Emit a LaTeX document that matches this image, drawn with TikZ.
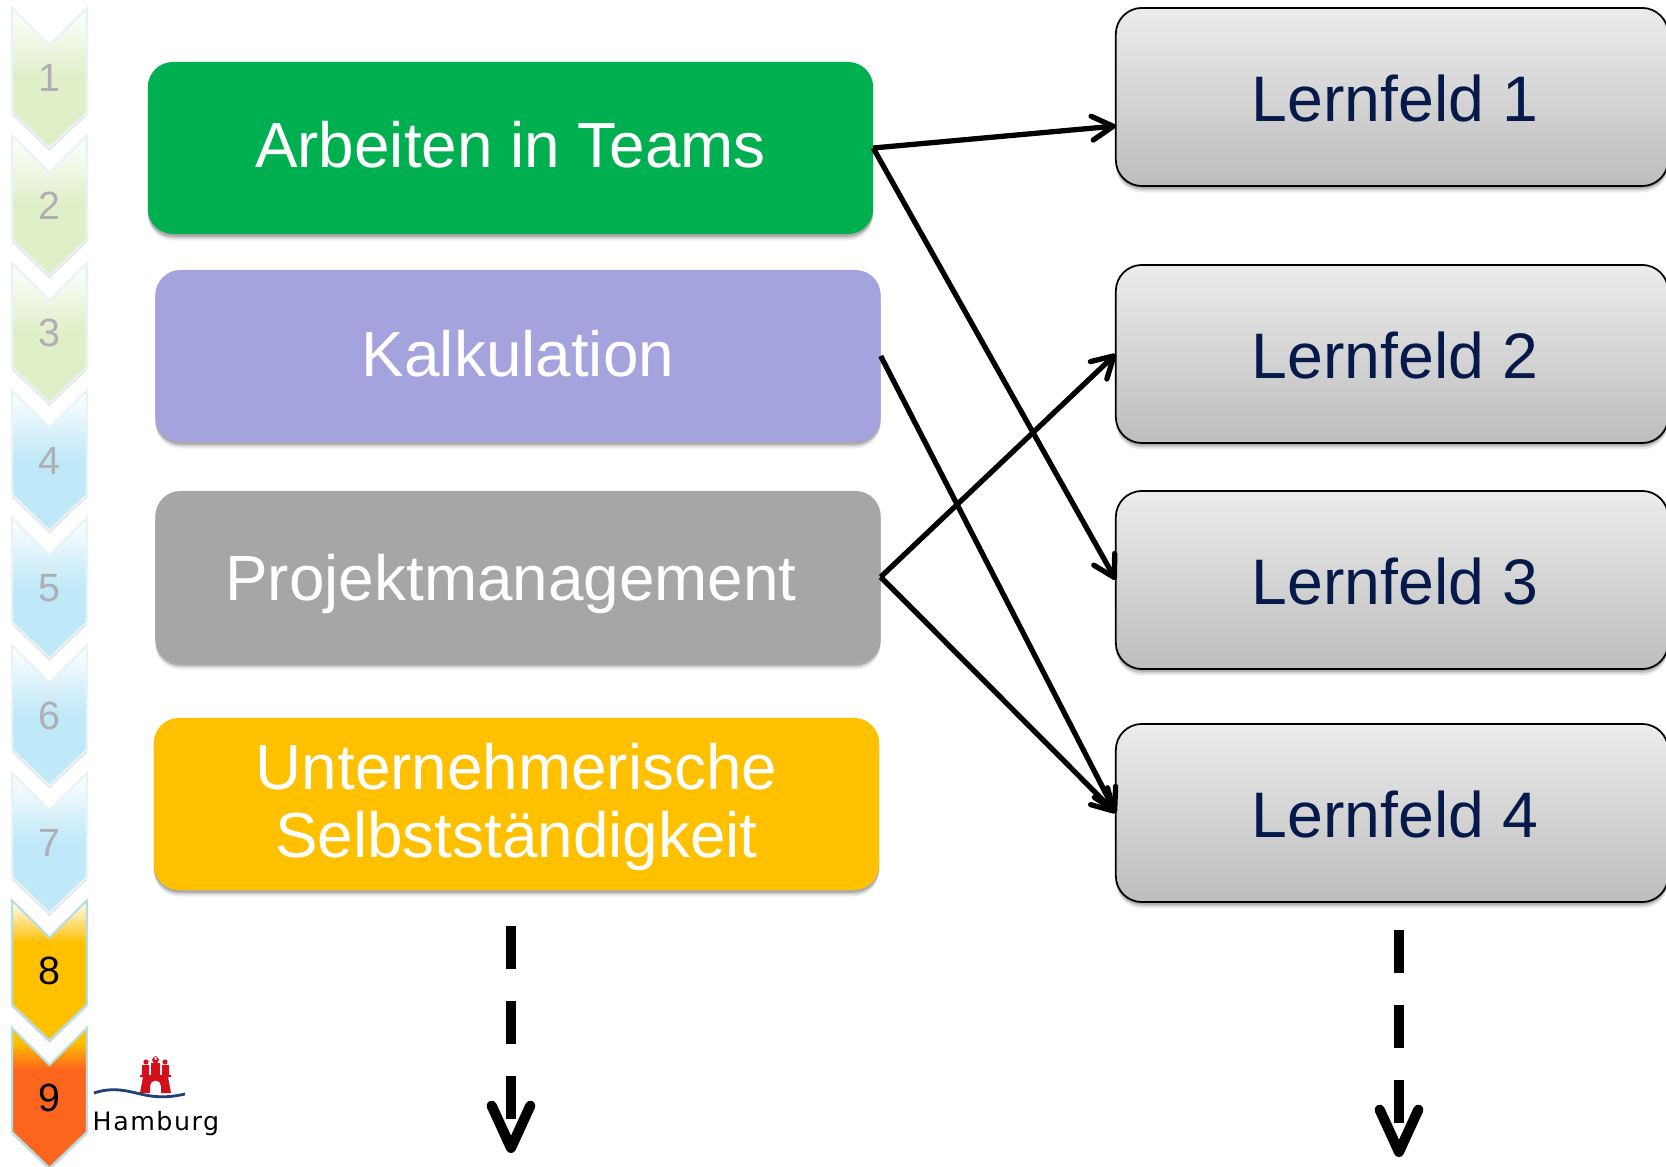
\documentclass[tikz,border=0pt]{standalone}
\usepackage{fontspec}
\setmainfont{Liberation Sans}
\newfontfamily\hhfont[LetterSpace=6]{DejaVu Sans}
\usetikzlibrary{arrows.meta,shadows}
\definecolor{teamgreen}{HTML}{00B050}
\definecolor{calcblue}{HTML}{A5A3DD}
\definecolor{projgrey}{HTML}{A6A6A6}
\definecolor{selfyellow}{HTML}{FFC000}
\definecolor{lernnavy}{HTML}{051A4A}
\definecolor{chevgreen}{HTML}{DFEFC8}
\definecolor{chevblue}{HTML}{BFE8F8}
\definecolor{chevorange}{HTML}{FB651E}
\definecolor{chevpale}{HTML}{E8F3F6}
\definecolor{chevedge}{HTML}{B8DDE0}
\definecolor{digitgrey}{HTML}{B0ADB5}
\definecolor{hhred}{HTML}{D2101C}
\definecolor{hhblue}{HTML}{1F3F77}
\pgfdeclareverticalshading{greenfade}{100bp}{color(0bp)=(chevgreen); color(50bp)=(chevgreen); color(75bp)=(white); color(100bp)=(white)}
\pgfdeclareverticalshading{bluefade}{100bp}{color(0bp)=(chevblue); color(50bp)=(chevblue); color(75bp)=(white); color(100bp)=(white)}
\pgfdeclareverticalshading{yellowfade}{100bp}{color(0bp)=(selfyellow); color(60bp)=(selfyellow); color(75bp)=(white); color(100bp)=(white)}
\pgfdeclareverticalshading{orangefade}{100bp}{color(0bp)=(chevorange); color(60bp)=(chevorange); color(70bp)=(selfyellow); color(100bp)=(selfyellow)}
\newcommand{\nudge}[3]{\hspace*{#1}\raisebox{#2}[\height][\depth]{#3}}
\tikzset{
    softshadow/.style={drop shadow={shadow xshift=0pt, shadow yshift=-0.7pt, fill=black, opacity=0.16},
        drop shadow={shadow xshift=0pt, shadow yshift=-1.2pt, fill=black, opacity=0.13},
        drop shadow={shadow xshift=0pt, shadow yshift=-1.8pt, fill=black, opacity=0.08}},
    chevshadow/.style={drop shadow={shadow xshift=0pt, shadow yshift=-0.8pt, fill=black, opacity=0.12}},
    topicbox/.style={shape=rectangle, rounded corners=7.2pt, softshadow, minimum width=7.25cm, minimum height=1.72cm,
        inner sep=0pt, outer sep=0pt, align=center, text=white, font=\fontsize{18.15}{19.6}\selectfont},
    lernbox/.style={shape=rectangle, rounded corners=7.4pt, softshadow, draw=black, line width=0.5pt, top color=gray!15, bottom color=gray!52,
        minimum width=5.52cm, minimum height=1.78cm, inner sep=0pt, outer sep=0pt, align=center, text=lernnavy, text height=13.9pt, font=\fontsize{18.3}{19.6}\selectfont},
    digit/.style={inner sep=0pt, font=\fontsize{11.2}{12}\selectfont},
    link/.style={line width=1.5pt, -{Straight Barb[length=6pt,width=6.8pt,round]}},
    downlink/.style={line width=2.9pt, dash pattern=on 12.2pt off 9.1pt, -{Straight Barb[length=12pt,width=11pt,round]}},
}
\begin{document}
\begin{tikzpicture}[x=0.01cm, y=-0.01cm]
        \useasboundingbox (0, 0) rectangle (1666, 1167);
        \foreach \n/\cfade/\cedge/\cdigit in {1/greenfade/chevpale/digitgrey, 2/greenfade/chevpale/digitgrey,
                3/greenfade/chevpale/digitgrey, 4/bluefade/chevpale/digitgrey, 5/bluefade/chevpale/digitgrey,
                6/bluefade/chevpale/digitgrey, 7/bluefade/chevpale/digitgrey, 8/yellowfade/chevedge/black,
                9/orangefade/chevedge/black} {
            \pgfmathsetmacro{\ty}{8+(\n-1)*127.5}
            \path[draw=\cedge, line width=0.6pt, chevshadow, shading=\cfade]
                (12, \ty) -- (49.5, {\ty+37}) -- (87, \ty) -- (87, {\ty+104}) -- (49.5, {\ty+140}) -- (12, {\ty+104}) -- cycle;
            \node[digit, text=\cdigit] (C\n) at (49, {\ty+70}) {\n};
        }
        \node[topicbox, fill=teamgreen] (T1) at (510.5, 148) {\nudge{0cm}{0.03cm}{Arbeiten in Teams}};
        \node[topicbox, fill=calcblue] (T2) at (518, 356) {\nudge{0cm}{0.02cm}{Kalkulation}};
        \node[topicbox, fill=projgrey] (T3) at (518, 577) {\nudge{-0.14cm}{-0.07cm}{Projektmanagement}};
        \node[topicbox, fill=selfyellow] (T4) at (516.5, 804) {\nudge{0cm}{-0.03cm}{Unternehmerische}\\\nudge{0cm}{-0.03cm}{Selbstständigkeit}};
        \node[lernbox] (L1) at (1392, 97) {\nudge{0.06cm}{0cm}{Lernfeld 1}};
        \node[lernbox] (L2) at (1392, 354) {\nudge{0.06cm}{0cm}{Lernfeld 2}};
        \node[lernbox] (L3) at (1392, 580) {\nudge{0.06cm}{0cm}{Lernfeld 3}};
        \node[lernbox] (L4) at (1392, 813) {\nudge{0.06cm}{0cm}{Lernfeld 4}};
        \draw[link] (T1.east) to (L1.186);
        \draw[link] (T1.east) to (L3.west);
        \draw[link] (T2.east) to (L4.west);
        \draw[link] (T3.east) to (L2.west);
        \draw[link] (T3.east) to (L4.west);
        \coordinate (D1) at (511, 926);
        \coordinate (E1) at (511, 1153);
        \coordinate (D2) at (1399, 930);
        \coordinate (E2) at (1399, 1157);
        \draw[downlink] (D1) to (E1);
        \draw[downlink] (D2) to (E2);
        \fill[hhred, even odd rule] (140, 1093) -- (143, 1077) -- (140, 1077) -- (140, 1075) -- (142, 1075) -- (142, 1065) -- (149, 1065) -- (149, 1075)
            -- (151, 1075) -- (151, 1063) -- (160, 1063) -- (160, 1075) -- (162, 1075) -- (162, 1065) -- (169, 1065) -- (169, 1075) -- (171, 1075)
            -- (171, 1077) -- (168, 1077) -- (171, 1093) -- (161, 1093) -- (161, 1086) arc (0:-180:5.5) -- (150, 1093) -- cycle;
        \fill[hhred] (146, 1062) circle (2.6) (165, 1062) circle (2.6) (155.5, 1060) circle (3.4) (154.5, 1056) rectangle (156.5, 1060);
        \draw[hhblue, line width=0.8pt] (94, 1093) .. controls (115, 1086) and (130, 1092) .. (145, 1095) .. controls (160, 1098) and (172, 1097) .. (185, 1094);
        \node[inner sep=0pt, anchor=base west] (H1) at (92, 1130) {\hhfont\fontsize{7.2}{8}\selectfont Hamburg};
    \end{tikzpicture}
\end{document}
